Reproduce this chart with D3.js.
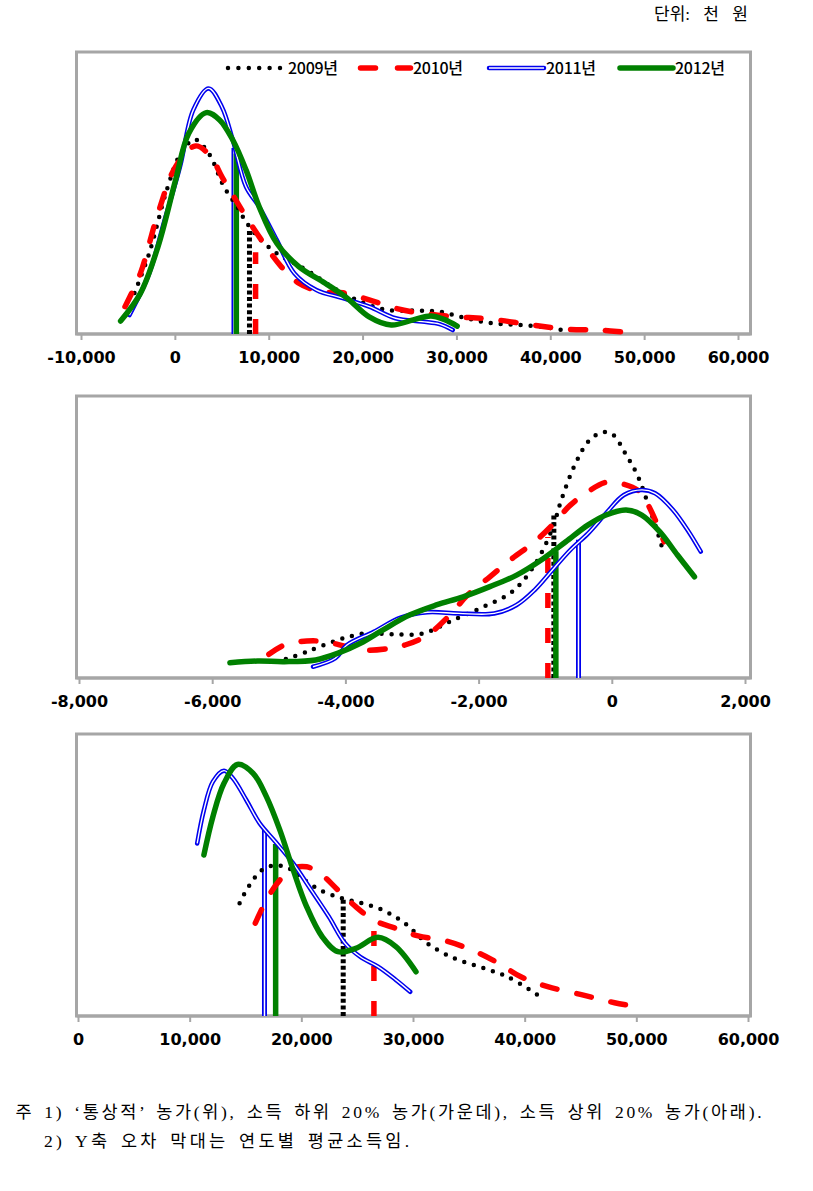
<!DOCTYPE html>
<html><head><meta charset="utf-8">
<script src="https://cdn.jsdelivr.net/npm/d3@7"></script>
<style>
html,body{margin:0;padding:0;background:#fff;}
svg{display:block;}
</style></head>
<body>
<svg id="chart" width="813" height="1191"></svg>
<script>
// ---------- DATA ----------
const years = ["2009년", "2010년", "2011년", "2012년"];

// Panel 1: '통상적' 농가 (x: 천 원, y: relative density 0-100)
const p1Ticks = [-10000, 0, 10000, 20000, 30000, 40000, 50000, 60000];
const p1TickLabels = ["-10,000", "0", "10,000", "20,000", "30,000", "40,000", "50,000", "60,000"];
const p1_2009 = [[-4300,14.5],[-2734,28.6],[-859,51.1],[548,63.5],[2093,69],[3595,64.1],[5236,52.2],[6642,45.1],[7580,39.8],[8986,33.9],[10862,28.6],[12737,25.1],[14611,21.5],[16955,16.2],[19768,11.5],[22580,8.5],[25394,8.3],[28206,7.9],[31019,5.6],[33832,3.8],[36646,3.2],[39459,2.4],[41566,1.2]];
const p1_2010 = [[-5312,9.7],[-3671,21.5],[-1796,42.8],[79,59.3],[2188,66.7],[3829,62.9],[5001,55.8],[6173,49.3],[7580,41.6],[9455,32.2],[11330,23.9],[13206,18],[15549,15],[17893,14.6],[20706,12.1],[23519,9.1],[26331,7.3],[30081,6.1],[33832,5.2],[38050,3.2],[41800,1.7],[45083,1.4],[48370,0.5]];
const p1_2011 = [[-4843,6.7],[-2734,21.5],[-1093,40.4],[548,59.3],[1954,79.4],[3595,87.1],[5001,80.6],[6173,68.8],[7580,52.2],[8986,45.1],[10862,33.3],[12737,21.5],[15081,15.6],[17893,12.7],[20706,9.7],[23519,5.6],[26331,4.4],[28206,3.5],[29613,1.4]];
const p1_2012 = [[-5781,4.6],[-3671,14.4],[-1796,31],[79,54.6],[1485,71.2],[3360,78.5],[4767,75.9],[6173,68.8],[7580,58.2],[8986,45.1],[10862,32.2],[13206,23.9],[16018,18],[18362,12.7],[20706,6.1],[23050,3.2],[25394,5],[27269,6.4],[28675,5.2],[30081,2.8]];
const p1MeanX = [7950, 8600, 6300, 6550];
const p1MeanTop = [37, 29, 66, 64];

// Panel 2: 소득 하위 20% 농가
const p2Ticks = [-8000, -6000, -4000, -2000, 0, 2000];
const p2TickLabels = ["-8,000", "-6,000", "-4,000", "-2,000", "0", "2,000"];
const p2_2009 = [[-4894,6.7],[-4578,9.3],[-4110,13.5],[-3708,15.8],[-3306,15.5],[-2836,15.8],[-2433,20],[-1964,24.9],[-1495,30.6],[-1159,40.1],[-891,53.1],[-758,63.1],[-556,75.5],[-355,83.8],[-153,87.1],[13,86.4],[215,79.1],[383,72],[550,61.3],[651,54.3],[752,46.6]];
const p2_2010 = [[-5149,8.4],[-4915,11.7],[-4578,13.1],[-4311,12.9],[-3976,11.1],[-3708,9.9],[-3339,10.5],[-3105,11.7],[-2770,15.2],[-2433,22.3],[-2166,29.4],[-1831,35.9],[-1495,42.4],[-1159,48.3],[-891,54.3],[-623,61.3],[-355,66.1],[-87,69.4],[181,68.7],[416,66.1],[584,59.6],[785,48.3]];
const p2_2011 = [[-4486,4],[-4151,7],[-3977,11.7],[-3574,16.4],[-3171,21.4],[-2770,23.3],[-2300,22.9],[-1764,22.9],[-1429,25.9],[-1159,31.2],[-892,38.3],[-623,45.4],[-355,51.3],[-87,58.4],[181,64.9],[450,66.7],[651,65.5],[920,59.6],[1154,51.9],[1336,44.8]];
const p2_2012 = [[-5734,5.4],[-5318,6],[-4915,5.8],[-4447,6.4],[-4110,8.8],[-3775,12.3],[-3440,17],[-3037,22.3],[-2635,25.9],[-2232,28.8],[-1831,32.4],[-1429,36.5],[-1026,42.4],[-691,48.3],[-355,54.3],[-87,57.8],[215,59.6],[450,57.8],[719,51.9],[986,43.6],[1241,35.9]];
const p2MeanX = [-870, -960, -500, -840];
const p2MeanTop = [58, 50, 49, 45];

// Panel 3: 소득 상위 20% 농가
const p3Ticks = [0, 10000, 20000, 30000, 40000, 50000, 60000];
const p3TickLabels = ["0", "10,000", "20,000", "30,000", "40,000", "50,000", "60,000"];
const p3_2009 = [[14471,40],[15277,45.9],[16477,51.8],[17677,53.4],[18877,52.4],[20068,48.8],[21671,44.7],[23668,41.7],[25271,40.2],[27268,37.6],[29265,32.9],[31262,25.8],[33662,20.5],[36062,17.3],[38462,13.9],[41184,7.4]];
const p3_2010 = [[15877,32.9],[16871,41.1],[18071,48.2],[19271,52.4],[20471,52.9],[21671,50.6],[23274,44.7],[24868,38.8],[26471,34],[28468,31.1],[30465,28.4],[32865,26.7],[35265,23.4],[37664,18.7],[39661,13.9],[42061,10.4],[45259,7.4],[48052,4.7],[50059,3.3]];
const p3_2011 = [[10674,61.2],[11274,73],[12080,83.1],[13074,87],[13871,84.3],[15071,76.6],[16271,68.3],[17677,61.8],[19271,54.1],[20874,44.7],[22468,35.2],[23874,26],[25271,21],[26865,17.5],[28468,12.8],[29749,8.6]];
const p3_2012 = [[11274,57.1],[12080,70.7],[13074,82.5],[14274,89.2],[15671,86.1],[16871,77.8],[18071,66],[19271,51.8],[20471,38.8],[21868,28.1],[23274,22.8],[24868,24],[26865,27.9],[28468,24.6],[30268,15.7]];
const p3MeanX = [23750, 26500, 16700, 17700];
const p3MeanTop = [42, 31, 66, 61];

const unitText = "단위: 천 원";
const note1 = "주 1) ‘통상적’ 농가(위), 소득 하위 20% 농가(가운데), 소득 상위 20% 농가(아래).";
const note2 = "2) Y축 오차 막대는 연도별 평균소득임.";

// ---------- LAYOUT / STYLE ----------
const svg = d3.select("#chart");
const frameL = 76.5, frameR = 750.5;
const panels = [
  {top: 52, bottom: 334, domain: [-10000, 60000], range: [81, 738], ticks: p1Ticks, labels: p1TickLabels,
   series: [p1_2009, p1_2010, p1_2011, p1_2012], meanX: p1MeanX, meanTop: p1MeanTop, legend: true},
  {top: 396, bottom: 678, domain: [-8000, 2000], range: [79, 745], ticks: p2Ticks, labels: p2TickLabels,
   series: [p2_2009, p2_2010, p2_2011, p2_2012], meanX: p2MeanX, meanTop: p2MeanTop},
  {top: 734, bottom: 1016, domain: [0, 60000], range: [78, 748], ticks: p3Ticks, labels: p3TickLabels,
   series: [p3_2009, p3_2010, p3_2011, p3_2012], meanX: p3MeanX, meanTop: p3MeanTop}
];

const gray = "#a6a6a6";
const colors = ["#000000", "#ff0000", "#0000ee", "#008000"];

function styleSeries(sel, i, kind) {
  if (i === 0) {
    if (kind === "bar") sel.attr("stroke", "#000").attr("stroke-width", 5).attr("stroke-dasharray", "4 2.6").attr("stroke-linecap", "butt");
    else sel.attr("stroke", "#000").attr("stroke-width", 4.5).attr("stroke-dasharray", kind === "legend" ? "0 10.4" : "0 10").attr("stroke-linecap", "round");
  } else if (i === 1) {
    sel.attr("stroke", colors[1]).attr("stroke-width", 5.5).attr("stroke-linecap", "round")
       .attr("stroke-dasharray", kind === "legend" ? "15 22" : "15 20");
  } else if (i === 2) {
    sel.attr("stroke", colors[2]).attr("stroke-width", 4.5).attr("stroke-linecap", "round");
  } else {
    sel.attr("stroke", colors[3]).attr("stroke-width", 5.5).attr("stroke-linecap", "round");
  }
  sel.attr("fill", "none");
}

panels.forEach((p, pi) => {
  const g = svg.append("g");
  const x = d3.scaleLinear().domain(p.domain).range(p.range);
  const y = d3.scaleLinear().domain([0, 100]).range([p.bottom, p.top]);

  g.append("rect").attr("x", frameL).attr("y", p.top).attr("width", frameR - frameL).attr("height", p.bottom - p.top)
    .attr("fill", "none").attr("stroke", gray).attr("stroke-width", 3);

  const axis = d3.axisBottom(x).tickValues(p.ticks).tickFormat((d, i) => p.labels[i]).tickSize(6).tickPadding(12);
  const ag = g.append("g").attr("transform", `translate(0,${p.bottom})`).call(axis);
  ag.select(".domain").attr("stroke", gray).attr("stroke-width", 3).attr("d", `M${frameL},0H${frameR}`);
  ag.selectAll(".tick line").attr("stroke", gray).attr("stroke-width", 2);
  ag.selectAll(".tick text").attr("fill", "#000").attr("font-family", "DejaVu Sans").attr("font-weight", "bold")
    .attr("font-size", 16);

  const line = d3.line().x(d => x(d[0])).y(d => y(d[1])).curve(d3.curveCatmullRom.alpha(0.5));

  p.meanX.forEach((mx, i) => {
    const l = g.append("line").attr("x1", x(mx)).attr("x2", x(mx)).attr("y1", y(0)).attr("y2", y(p.meanTop[i]));
    styleSeries(l, i, "bar");
    if (i === 1 || i === 3) l.attr("stroke-linecap", "butt");
    if (i === 2) {
      l.attr("stroke-width", 5).attr("stroke-linecap", "butt");
      g.append("line").attr("x1", x(mx)).attr("x2", x(mx)).attr("y1", y(0)).attr("y2", y(p.meanTop[i]) + 1)
        .attr("stroke", "#fff").attr("stroke-width", 1.5);
    }
  });

  p.series.forEach((s, i) => {
    const path = g.append("path").datum(s).attr("d", line);
    styleSeries(path, i, "curve");
    if (i === 2) {
      g.append("path").datum(s).attr("d", line).attr("stroke", "#fff").attr("stroke-width", 1.4).attr("fill", "none");
    }
  });

  if (p.legend) {
    const ly = 68;
    const items = [
      {x1: 228, x2: 280, tx: 288},
      {x1: 360.5, x2: 410.5, tx: 413},
      {x1: 489, x2: 544, tx: 546},
      {x1: 620, x2: 673, tx: 675}
    ];
    items.forEach((it, i) => {
      const l = g.append("line").attr("x1", it.x1).attr("x2", it.x2).attr("y1", ly).attr("y2", ly);
      styleSeries(l, i, "legend");
      if (i === 2) {
        g.append("line").attr("x1", it.x1).attr("x2", it.x2).attr("y1", ly).attr("y2", ly)
          .attr("stroke", "#fff").attr("stroke-width", 1.4);
      }
      g.append("text").attr("x", it.tx).attr("y", ly + 6).text(years[i])
        .attr("font-family", "'Noto Sans CJK KR', sans-serif").attr("font-size", 16).attr("font-weight", 500)
        .attr("letter-spacing", -0.3).attr("fill", "#000");
    });
  }
});

const serif = "'Liberation Serif', 'Noto Sans CJK KR', serif";
svg.append("text").attr("x", 654).attr("y", 20).text(unitText)
  .attr("font-family", serif).attr("font-size", 17).attr("fill", "#000")
  .attr("word-spacing", 9);
svg.append("text").attr("x", 15.5).attr("y", 1118).text(note1)
  .attr("font-family", serif).attr("font-size", 17.5).attr("fill", "#000")
  .attr("word-spacing", 3).attr("textLength", 746).attr("lengthAdjust", "spacing");
svg.append("text").attr("x", 44).attr("y", 1147).text(note2)
  .attr("font-family", serif).attr("font-size", 17.5).attr("fill", "#000")
  .attr("word-spacing", 3).attr("textLength", 365).attr("lengthAdjust", "spacing");
</script>
</body></html>
